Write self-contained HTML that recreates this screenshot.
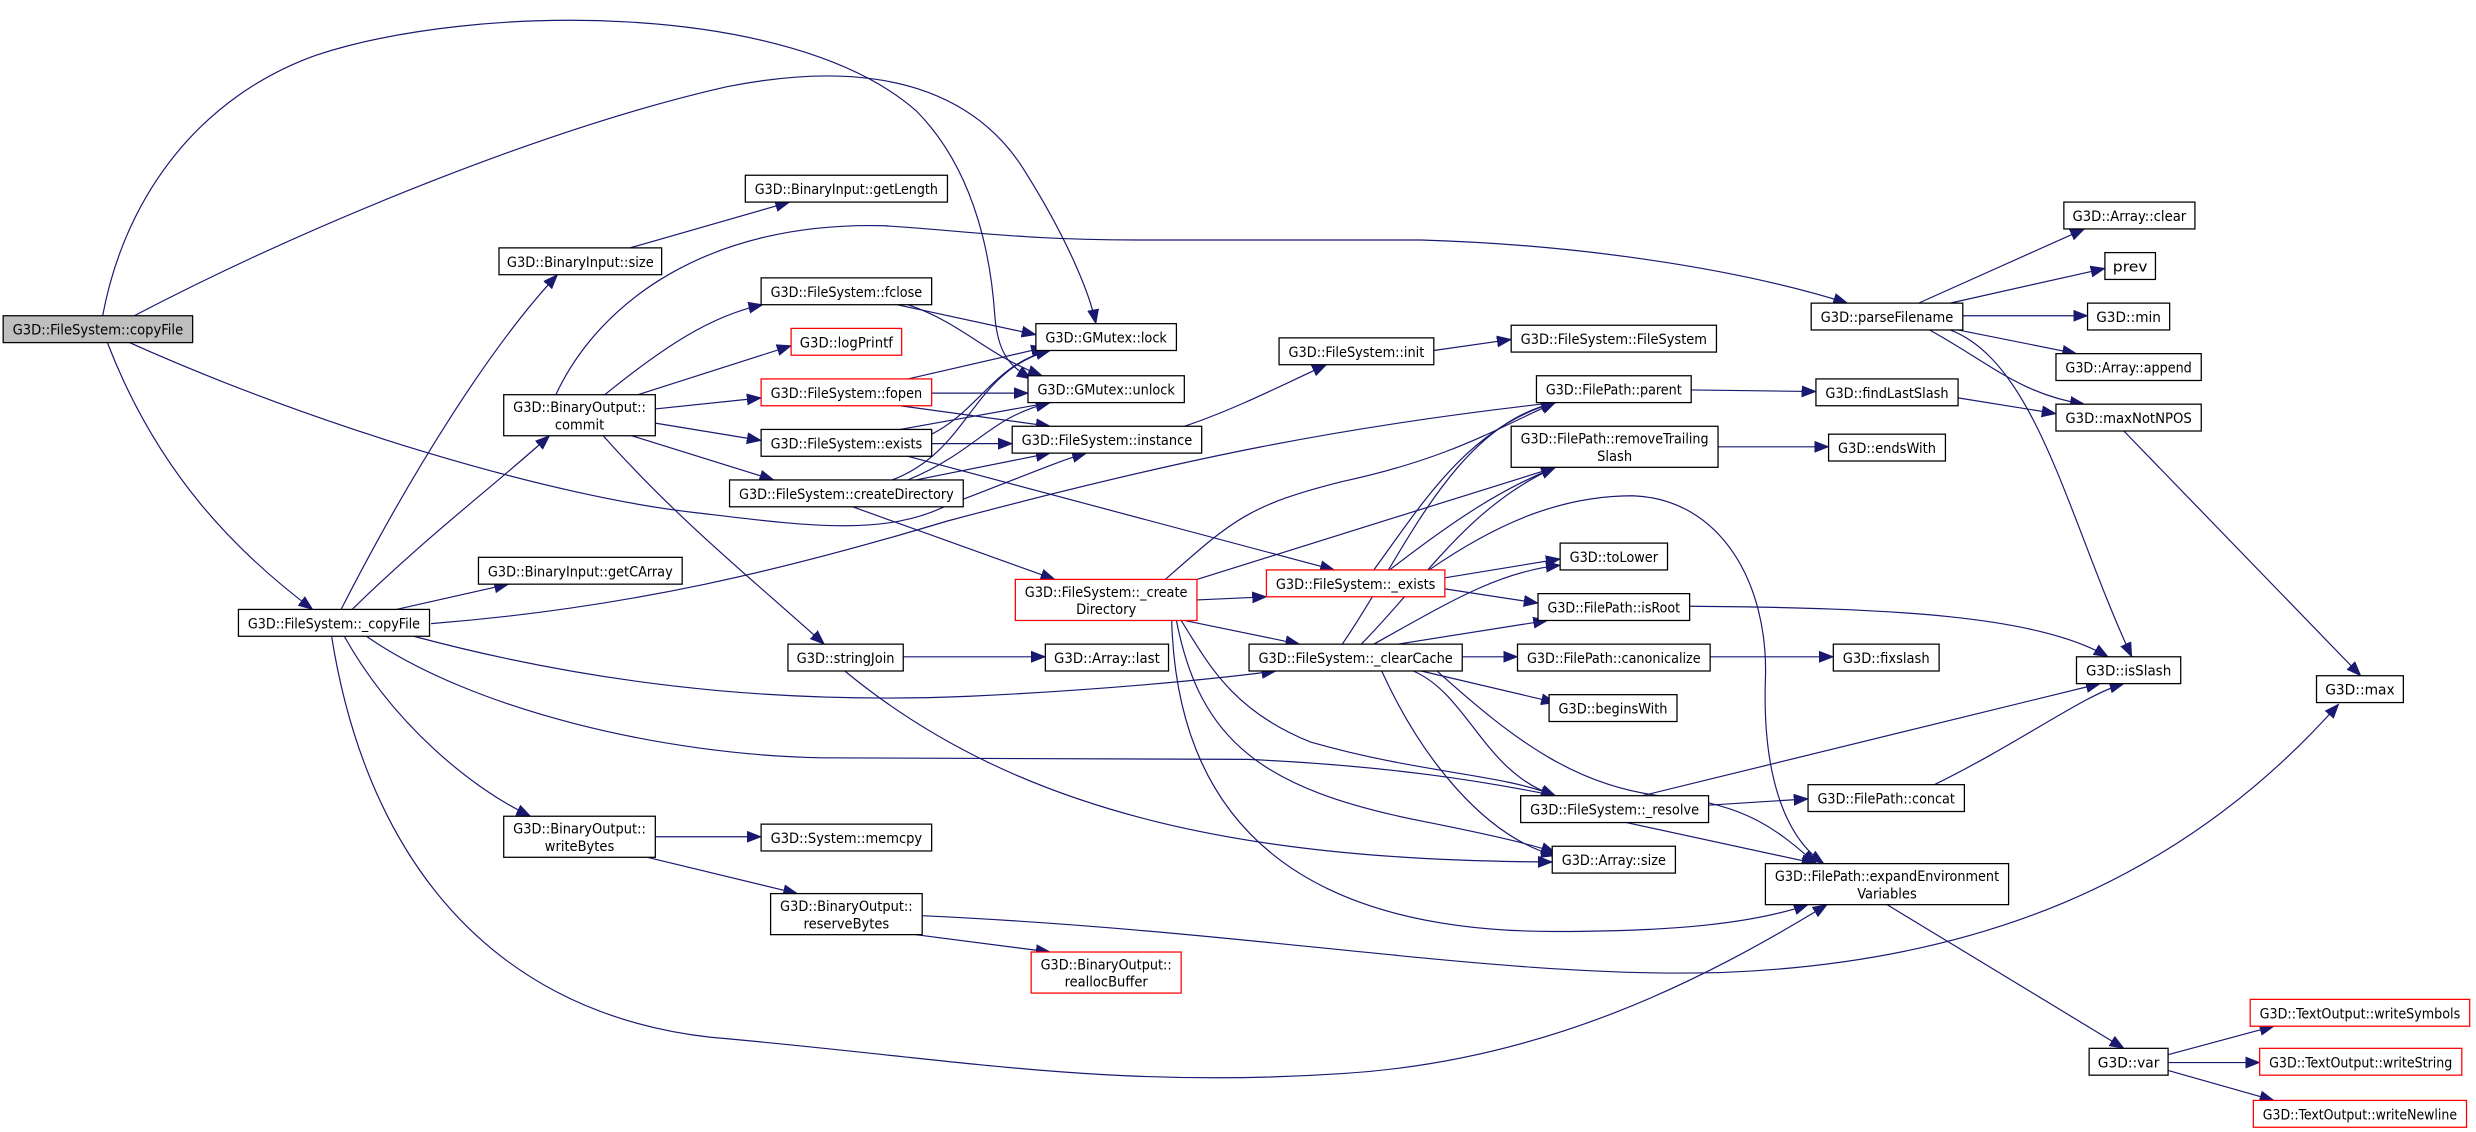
<!DOCTYPE html>
<html><head><meta charset="utf-8"><style>
html,body{margin:0;padding:0;background:#fff;}
svg{display:block;}
text{font-family:"DejaVu Sans Condensed","Liberation Sans",sans-serif;font-size:9.2px;fill:#000;text-anchor:middle;}
.n{fill:#fff;stroke:#000;stroke-width:0.8;}
.r{fill:#fff;stroke:#ff0000;stroke-width:0.8;}
.e{fill:none;stroke:#191970;stroke-width:0.75;marker-end:url(#a);}
</style></head><body>
<svg width="2476" height="1132" viewBox="0 0 1568 717" preserveAspectRatio="none" xmlns="http://www.w3.org/2000/svg">
<defs><marker id="a" markerUnits="userSpaceOnUse" markerWidth="10" markerHeight="8" refX="9" refY="4" orient="auto"><path d="M0,0.5 L9,4 L0,7.5 z" fill="#191970" stroke="#191970" stroke-width="0.5"/></marker></defs>
<rect width="1568" height="717" fill="#fff"/>
<g>
<path class="e" d="M65,200 C80,120 130,60 200,35 C300,2 500,0 580,70 C620,110 628,170 630,200 C632,225 640,232 653,240"/>
<path class="e" d="M85,200 C200,140 350,80 460,55 C560,35 620,60 650,110 C675,150 690,185 694,205"/>
<path class="e" d="M82,217 C200,270 350,315 443,325 C510,333 560,340 600,320 C640,305 670,292 688,287"/>
<path class="e" d="M68,217 C100,300 150,350 198,386"/>
<path class="e" d="M216,386 C260,300 310,220 353,174"/>
<path class="e" d="M223,386 C270,340 310,310 348,276"/>
<path class="e" d="M251,386 L322,370"/>
<path class="e" d="M273,395 C400,385 500,360 600,330 C750,290 850,270 985,255"/>
<path class="e" d="M262,403 C400,440 520,445 614,441 C700,437 770,430 808,425"/>
<path class="e" d="M232,403 C300,450 420,478 520,480 L790,481 C880,485 940,495 985,504"/>
<path class="e" d="M218,403 C250,460 300,500 336,517"/>
<path class="e" d="M210,403 C230,530 300,640 450,657 C600,670 700,690 850,680 C980,672 1080,620 1157,573"/>
<path class="e" d="M399,157 L500,128"/>
<path class="e" d="M352,250 C380,190 450,140 560,143 C620,147 650,152 720,152 L900,152 C1000,155 1100,170 1170,192"/>
<path class="e" d="M383,250 C420,220 450,200 483,193"/>
<path class="e" d="M404,250 L501,219"/>
<path class="e" d="M415,259 L482,252"/>
<path class="e" d="M415,268 L482,279"/>
<path class="e" d="M400,276 L490,304"/>
<path class="e" d="M382,276 C430,330 480,370 522,408"/>
<path class="e" d="M568,193 L656,212"/>
<path class="e" d="M575,193 C610,205 625,225 660,238"/>
<path class="e" d="M575,240 L662,220"/>
<path class="e" d="M590,249 L651,249"/>
<path class="e" d="M570,257 L665,270"/>
<path class="e" d="M590,275 C620,260 630,230 665,222"/>
<path class="e" d="M570,272 L665,255"/>
<path class="e" d="M590,281 L641,281"/>
<path class="e" d="M575,289 L845,361"/>
<path class="e" d="M565,304 C615,285 615,235 665,222"/>
<path class="e" d="M575,304 C620,285 625,265 665,255"/>
<path class="e" d="M580,304 L665,287"/>
<path class="e" d="M540,321 L668,367"/>
<path class="e" d="M750,270 C780,260 810,245 840,231"/>
<path class="e" d="M908,222 L957,215"/>
<path class="e" d="M738,367 C780,330 790,320 850,305 C920,290 950,270 985,255"/>
<path class="e" d="M758,367 L985,296"/>
<path class="e" d="M758,380 L802,378"/>
<path class="e" d="M750,393 L823,408"/>
<path class="e" d="M748,393 C765,420 780,450 830,470 C900,490 950,490 985,504"/>
<path class="e" d="M745,393 C760,470 800,500 900,520 C950,530 970,535 985,540"/>
<path class="e" d="M742,393 C745,500 800,590 985,590 C1060,590 1110,585 1145,573"/>
<path class="e" d="M870,361 C900,320 930,270 985,255"/>
<path class="e" d="M880,361 C920,330 950,310 985,296"/>
<path class="e" d="M915,366 L988,354"/>
<path class="e" d="M915,373 L974,382"/>
<path class="e" d="M905,361 C950,330 990,314 1034,314 C1090,316 1120,370 1118,430 C1116,490 1130,530 1155,547"/>
<path class="e" d="M850,408 C890,350 920,270 985,255"/>
<path class="e" d="M862,408 C900,370 930,320 985,296"/>
<path class="e" d="M870,408 C920,380 950,362 988,358"/>
<path class="e" d="M885,408 L980,393"/>
<path class="e" d="M926,416 L961,416"/>
<path class="e" d="M900,425 L985,445"/>
<path class="e" d="M895,425 C930,440 940,490 985,504"/>
<path class="e" d="M875,425 C900,480 940,530 985,542"/>
<path class="e" d="M910,425 C960,470 1000,500 1060,505 C1110,510 1130,530 1150,547"/>
<path class="e" d="M1082,510 L1145,506"/>
<path class="e" d="M1040,504 L1330,433"/>
<path class="e" d="M1030,521 L1150,547"/>
<path class="e" d="M1225,497 C1280,470 1320,440 1345,433"/>
<path class="e" d="M1070,384 C1200,385 1290,390 1335,416"/>
<path class="e" d="M1083,416 L1161,416"/>
<path class="e" d="M1071,247 L1150,248"/>
<path class="e" d="M1240,252 L1302,262"/>
<path class="e" d="M1088,283 L1158,283"/>
<path class="e" d="M1215,192 L1320,145"/>
<path class="e" d="M1235,192 L1333,170"/>
<path class="e" d="M1243,200 L1322,200"/>
<path class="e" d="M1240,209 L1315,224"/>
<path class="e" d="M1222,209 C1260,230 1280,250 1320,256"/>
<path class="e" d="M1235,209 C1290,230 1310,330 1350,416"/>
<path class="e" d="M1345,273 L1495,428"/>
<path class="e" d="M1195,573 L1345,664"/>
<path class="e" d="M1373,668 L1440,650"/>
<path class="e" d="M1373,673 L1431,673"/>
<path class="e" d="M1373,678 L1440,697"/>
<path class="e" d="M572,416 L662,416"/>
<path class="e" d="M535,425 C650,520 800,545 983,546"/>
<path class="e" d="M415,530 L482,530"/>
<path class="e" d="M410,543 L505,566"/>
<path class="e" d="M580,592 L665,603"/>
<path class="e" d="M584,580 C800,590 950,620 1090,616 C1250,610 1380,560 1481,446"/>
</g>
<g>
<rect x="2" y="200" width="120" height="17" fill="#bfbfbf" stroke="#000" stroke-width="0.8"/><text x="62" y="212" textLength="108" lengthAdjust="spacingAndGlyphs">G3D::FileSystem::copyFile</text>
<rect class="n" x="316" y="157" width="103" height="17"/><text x="367.5" y="169" textLength="93" lengthAdjust="spacingAndGlyphs">G3D::BinaryInput::size</text>
<rect class="n" x="472" y="111" width="128" height="17"/><text x="536" y="123" textLength="116" lengthAdjust="spacingAndGlyphs">G3D::BinaryInput::getLength</text>
<rect class="n" x="319" y="250" width="96" height="26"/><text x="367" y="261" textLength="84" lengthAdjust="spacingAndGlyphs">G3D::BinaryOutput::</text><text x="367" y="272">commit</text>
<rect class="n" x="303" y="353" width="129" height="17"/><text x="367.5" y="365" textLength="117" lengthAdjust="spacingAndGlyphs">G3D::BinaryInput::getCArray</text>
<rect class="n" x="151" y="386" width="121" height="17"/><text x="211.5" y="398" textLength="109" lengthAdjust="spacingAndGlyphs">G3D::FileSystem::_copyFile</text>
<rect class="n" x="482" y="176" width="108" height="17"/><text x="536" y="188" textLength="96" lengthAdjust="spacingAndGlyphs">G3D::FileSystem::fclose</text>
<rect class="r" x="501" y="208" width="70" height="17"/><text x="536" y="220" textLength="59" lengthAdjust="spacingAndGlyphs">G3D::logPrintf</text>
<rect class="r" x="482" y="240" width="108" height="17"/><text x="536" y="252" textLength="96" lengthAdjust="spacingAndGlyphs">G3D::FileSystem::fopen</text>
<rect class="n" x="482" y="272" width="108" height="17"/><text x="536" y="284" textLength="96" lengthAdjust="spacingAndGlyphs">G3D::FileSystem::exists</text>
<rect class="n" x="462" y="304" width="148" height="17"/><text x="536" y="316" textLength="136" lengthAdjust="spacingAndGlyphs">G3D::FileSystem::createDirectory</text>
<rect class="n" x="656" y="205" width="89" height="17"/><text x="700.5" y="217" textLength="77" lengthAdjust="spacingAndGlyphs">G3D::GMutex::lock</text>
<rect class="n" x="651" y="238" width="99" height="17"/><text x="700.5" y="250" textLength="87" lengthAdjust="spacingAndGlyphs">G3D::GMutex::unlock</text>
<rect class="n" x="641" y="270" width="120" height="17"/><text x="701" y="282" textLength="108" lengthAdjust="spacingAndGlyphs">G3D::FileSystem::instance</text>
<rect class="n" x="810" y="214" width="98" height="17"/><text x="859" y="226" textLength="86" lengthAdjust="spacingAndGlyphs">G3D::FileSystem::init</text>
<rect class="n" x="957" y="206" width="130" height="17"/><text x="1022" y="218" textLength="118" lengthAdjust="spacingAndGlyphs">G3D::FileSystem::FileSystem</text>
<rect class="r" x="643" y="367" width="115" height="26"/><text x="700.5" y="378" textLength="103" lengthAdjust="spacingAndGlyphs">G3D::FileSystem::_create</text><text x="700.5" y="389">Directory</text>
<rect class="r" x="802" y="361" width="113" height="17"/><text x="858.5" y="373" textLength="101" lengthAdjust="spacingAndGlyphs">G3D::FileSystem::_exists</text>
<rect class="n" x="791" y="408" width="135" height="17"/><text x="858.5" y="420" textLength="123" lengthAdjust="spacingAndGlyphs">G3D::FileSystem::_clearCache</text>
<rect class="n" x="499" y="408" width="73" height="17"/><text x="535.5" y="420" textLength="62" lengthAdjust="spacingAndGlyphs">G3D::stringJoin</text>
<rect class="n" x="662" y="408" width="78" height="17"/><text x="701" y="420" textLength="67" lengthAdjust="spacingAndGlyphs">G3D::Array::last</text>
<rect class="n" x="319" y="517" width="96" height="26"/><text x="367" y="528" textLength="84" lengthAdjust="spacingAndGlyphs">G3D::BinaryOutput::</text><text x="367" y="539">writeBytes</text>
<rect class="n" x="482" y="522" width="108" height="17"/><text x="536" y="534" textLength="96" lengthAdjust="spacingAndGlyphs">G3D::System::memcpy</text>
<rect class="n" x="488" y="566" width="96" height="26"/><text x="536" y="577" textLength="84" lengthAdjust="spacingAndGlyphs">G3D::BinaryOutput::</text><text x="536" y="588">reserveBytes</text>
<rect class="r" x="653" y="603" width="95" height="26"/><text x="700.5" y="614" textLength="83" lengthAdjust="spacingAndGlyphs">G3D::BinaryOutput::</text><text x="700.5" y="625">reallocBuffer</text>
<rect class="n" x="1147" y="192" width="96" height="17"/><text x="1195" y="204" textLength="84" lengthAdjust="spacingAndGlyphs">G3D::parseFilename</text>
<rect class="n" x="1307" y="128" width="83" height="17"/><text x="1348.5" y="140" textLength="72" lengthAdjust="spacingAndGlyphs">G3D::Array::clear</text>
<rect class="n" x="1333" y="160" width="32" height="17"/><text x="1349" y="172" textLength="22" lengthAdjust="spacingAndGlyphs">prev</text>
<rect class="n" x="1322" y="192" width="52" height="17"/><text x="1348" y="204" textLength="41" lengthAdjust="spacingAndGlyphs">G3D::min</text>
<rect class="n" x="1302" y="224" width="92" height="17"/><text x="1348" y="236" textLength="80" lengthAdjust="spacingAndGlyphs">G3D::Array::append</text>
<rect class="n" x="1302" y="256" width="92" height="17"/><text x="1348" y="268" textLength="80" lengthAdjust="spacingAndGlyphs">G3D::maxNotNPOS</text>
<rect class="n" x="973" y="238" width="98" height="17"/><text x="1022" y="250" textLength="86" lengthAdjust="spacingAndGlyphs">G3D::FilePath::parent</text>
<rect class="n" x="1150" y="240" width="90" height="17"/><text x="1195" y="252" textLength="78" lengthAdjust="spacingAndGlyphs">G3D::findLastSlash</text>
<rect class="n" x="957" y="270" width="131" height="26"/><text x="1022.5" y="281" textLength="119" lengthAdjust="spacingAndGlyphs">G3D::FilePath::removeTrailing</text><text x="1022.5" y="292">Slash</text>
<rect class="n" x="1158" y="275" width="74" height="17"/><text x="1195" y="287" textLength="62" lengthAdjust="spacingAndGlyphs">G3D::endsWith</text>
<rect class="n" x="988" y="344" width="68" height="17"/><text x="1022" y="356" textLength="56" lengthAdjust="spacingAndGlyphs">G3D::toLower</text>
<rect class="n" x="974" y="376" width="96" height="17"/><text x="1022" y="388" textLength="84" lengthAdjust="spacingAndGlyphs">G3D::FilePath::isRoot</text>
<rect class="n" x="961" y="408" width="122" height="17"/><text x="1022" y="420" textLength="110" lengthAdjust="spacingAndGlyphs">G3D::FilePath::canonicalize</text>
<rect class="n" x="1161" y="408" width="67" height="17"/><text x="1194.5" y="420" textLength="55" lengthAdjust="spacingAndGlyphs">G3D::fixslash</text>
<rect class="n" x="981" y="440" width="81" height="17"/><text x="1021.5" y="452" textLength="69" lengthAdjust="spacingAndGlyphs">G3D::beginsWith</text>
<rect class="n" x="1315" y="416" width="66" height="17"/><text x="1348" y="428" textLength="54" lengthAdjust="spacingAndGlyphs">G3D::isSlash</text>
<rect class="n" x="1467" y="428" width="55" height="17"/><text x="1494.5" y="440" textLength="44" lengthAdjust="spacingAndGlyphs">G3D::max</text>
<rect class="n" x="963" y="504" width="119" height="17"/><text x="1022.5" y="516" textLength="107" lengthAdjust="spacingAndGlyphs">G3D::FileSystem::_resolve</text>
<rect class="n" x="1145" y="497" width="99" height="17"/><text x="1194.5" y="509" textLength="87" lengthAdjust="spacingAndGlyphs">G3D::FilePath::concat</text>
<rect class="n" x="983" y="536" width="78" height="17"/><text x="1022" y="548" textLength="66" lengthAdjust="spacingAndGlyphs">G3D::Array::size</text>
<rect class="n" x="1118" y="547" width="154" height="26"/><text x="1195" y="558" textLength="142" lengthAdjust="spacingAndGlyphs">G3D::FilePath::expandEnvironment</text><text x="1195" y="569">Variables</text>
<rect class="n" x="1323" y="664" width="50" height="17"/><text x="1348" y="676" textLength="39" lengthAdjust="spacingAndGlyphs">G3D::var</text>
<rect class="r" x="1425" y="633" width="139" height="17"/><text x="1494.5" y="645" textLength="127" lengthAdjust="spacingAndGlyphs">G3D::TextOutput::writeSymbols</text>
<rect class="r" x="1431" y="664" width="128" height="17"/><text x="1495" y="676" textLength="116" lengthAdjust="spacingAndGlyphs">G3D::TextOutput::writeString</text>
<rect class="r" x="1427" y="697" width="135" height="17"/><text x="1494.5" y="709" textLength="123" lengthAdjust="spacingAndGlyphs">G3D::TextOutput::writeNewline</text>
</g>
</svg>
</body></html>
